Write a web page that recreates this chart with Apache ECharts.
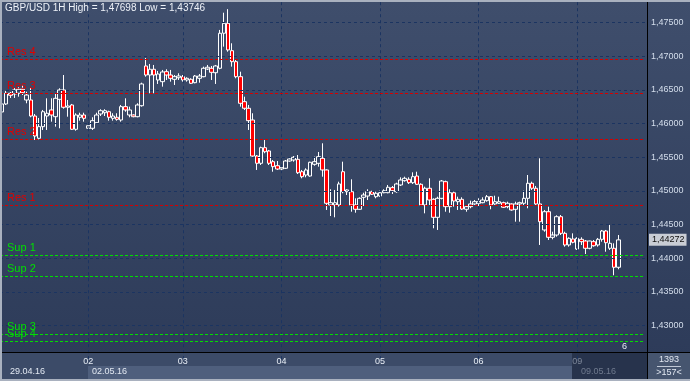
<!DOCTYPE html>
<html><head><meta charset="utf-8">
<script src="https://cdn.jsdelivr.net/npm/echarts@6/dist/echarts.min.js"></script>
<style>html,body{margin:0;padding:0;background:#2e3c5a;}#c{width:690px;height:381px;}</style>
</head><body><div id="c"></div>
<script>
// ---------- DATA ----------
const titleText = 'GBP/USD 1H High = 1,47698 Low = 1,43746';
const dayNames = ['29', '02', '03', '04', '05', '06', '09'];
const dayDates = ['29.04.16', '02.05.16', '03.05.16', '04.05.16', '05.05.16', '06.05.16', '09.05.16'];
const dayFirstHour = [3, 1, 0, 0, 0, 0, 1];
// rows: [open, close, low, high]
const day29 = [
  [1.46171,1.46290,1.46097,1.46423],[1.46290,1.46449,1.46275,1.46483],[1.46449,1.46419,1.46379,1.46468],
  [1.46438,1.46498,1.46379,1.46527],[1.46449,1.46508,1.46398,1.46538],[1.46508,1.46457,1.46423,1.46572],
  [1.46349,1.46423,1.46300,1.46472],[1.46349,1.46111,1.46092,1.46527],[1.46111,1.45814,1.45755,1.46141],
  [1.45780,1.45953,1.45765,1.46082],[1.45953,1.46175,1.45904,1.46201],[1.46111,1.46152,1.45904,1.46374],
  [1.46201,1.46126,1.46027,1.46374],[1.46101,1.46374,1.45953,1.46449],[1.46359,1.46498,1.45929,1.46523],
  [1.46498,1.46241,1.46220,1.46720],[1.46241,1.46260,1.46101,1.46349],[1.46275,1.45914,1.45904,1.46290],
  [1.45914,1.46126,1.45893,1.46152],[1.46092,1.46126,1.46042,1.46160],[1.46126,1.46077,1.46027,1.46160]
];
const day02 = [
  [1.45929,1.45967,1.45893,1.45978],[1.45929,1.46042,1.45904,1.46092],[1.46012,1.46126,1.46003,1.46160],
  [1.46141,1.46190,1.46111,1.46211],[1.46160,1.46190,1.46111,1.46211],[1.46175,1.46092,1.46042,1.46190],
  [1.46077,1.46111,1.46042,1.46152],[1.46092,1.46062,1.46042,1.46152],[1.46052,1.46250,1.46027,1.46275],
  [1.46250,1.46201,1.46175,1.46374],[1.46126,1.46201,1.46092,1.46250],[1.46126,1.46101,1.46092,1.46137],
  [1.46101,1.46275,1.46092,1.46300],[1.46264,1.46587,1.46250,1.46606],[1.46854,1.46720,1.46695,1.46973],
  [1.46720,1.46805,1.46449,1.46884],[1.46805,1.46720,1.46449,1.46869],[1.46646,1.46735,1.46587,1.46780],
  [1.46621,1.46765,1.46547,1.46795],[1.46769,1.46720,1.46646,1.46805],[1.46720,1.46671,1.46621,1.46795],
  [1.46656,1.46695,1.46572,1.46720],[1.46680,1.46705,1.46646,1.46746]
];
const day03 = [
  [1.46695,1.46646,1.46621,1.46720],[1.46646,1.46671,1.46621,1.46686],[1.46656,1.46597,1.46587,1.46671],
  [1.46606,1.46705,1.46597,1.46720],[1.46671,1.46705,1.46606,1.46735],[1.46695,1.46820,1.46686,1.46844],
  [1.46809,1.46835,1.46795,1.46869],[1.46820,1.46760,1.46646,1.46854],[1.46754,1.46854,1.46587,1.46869],
  [1.46820,1.47340,1.46805,1.47389],[1.47340,1.47488,1.47141,1.47645],[1.47488,1.47092,1.47066,1.47698],
  [1.47081,1.46918,1.46844,1.47191],[1.46918,1.46695,1.46671,1.46943],[1.46695,1.46300,1.46250,1.46769],
  [1.46324,1.46226,1.46201,1.46398],[1.46226,1.46042,1.45904,1.46275],[1.46052,1.45517,1.45507,1.46152],
  [1.45517,1.45409,1.45310,1.45532],[1.45409,1.45641,1.45384,1.45656],[1.45641,1.45581,1.45558,1.45755],
  [1.45592,1.45409,1.45384,1.45607],[1.45433,1.45359,1.45284,1.45458],[1.45373,1.45324,1.45310,1.45443]
];
const day04 = [
  [1.45324,1.45344,1.45299,1.45359],[1.45335,1.45443,1.45324,1.45458],[1.45443,1.45473,1.45433,1.45483],
  [1.45458,1.45498,1.45433,1.45517],[1.45468,1.45269,1.45250,1.45532],[1.45284,1.45210,1.45186,1.45310],
  [1.45235,1.45310,1.45201,1.45335],[1.45220,1.45424,1.45210,1.45433],[1.45394,1.45433,1.45373,1.45507],
  [1.45409,1.45507,1.45359,1.45577],[1.45483,1.45310,1.45210,1.45706],[1.45310,1.44815,1.44716,1.45320],
  [1.44790,1.44824,1.44626,1.45023],[1.44790,1.44824,1.44607,1.45013],[1.44790,1.45102,1.44765,1.45136],
  [1.45284,1.44987,1.44964,1.45433],[1.44987,1.45013,1.44938,1.45023],[1.44987,1.44790,1.44690,1.45171],
  [1.44790,1.44726,1.44675,1.44889],[1.44726,1.44889,1.44716,1.44904],[1.44904,1.44938,1.44775,1.44972],
  [1.44923,1.44987,1.44864,1.45023],[1.44987,1.44949,1.44938,1.45002],[1.44913,1.44964,1.44889,1.44987]
];
const day05 = [
  [1.44923,1.44972,1.44913,1.45002],[1.44972,1.45002,1.44964,1.45023],[1.44972,1.45053,1.44964,1.45087],
  [1.45047,1.45002,1.44953,1.45072],[1.44987,1.45102,1.44972,1.45121],[1.45087,1.45161,1.45072,1.45201],
  [1.45151,1.45186,1.45136,1.45210],[1.45171,1.45121,1.45102,1.45201],[1.45121,1.45210,1.45102,1.45275],
  [1.45220,1.45097,1.45087,1.45284],[1.45097,1.44790,1.44775,1.45112],[1.44790,1.45038,1.44666,1.45062],
  [1.45038,1.44864,1.44790,1.45186],[1.44874,1.44607,1.44444,1.44889],[1.44607,1.44889,1.44419,1.44913],
  [1.44889,1.45146,1.44874,1.45161],[1.45136,1.44765,1.44690,1.45151],[1.44765,1.44972,1.44675,1.45023],
  [1.44972,1.44849,1.44765,1.44987],[1.44839,1.44874,1.44716,1.44913],[1.44874,1.44730,1.44716,1.44904],
  [1.44726,1.44765,1.44690,1.44785],[1.44765,1.44805,1.44741,1.44854],[1.44805,1.44839,1.44790,1.44864]
];
const day06 = [
  [1.44815,1.44839,1.44775,1.44889],[1.44824,1.44864,1.44815,1.44904],[1.44854,1.44913,1.44839,1.44938],
  [1.44913,1.44790,1.44726,1.44923],[1.44805,1.44839,1.44790,1.44928],[1.44815,1.44839,1.44805,1.44913],
  [1.44824,1.44756,1.44745,1.44839],[1.44765,1.44815,1.44741,1.44839],[1.44805,1.44716,1.44705,1.44815],
  [1.44726,1.44805,1.44542,1.44839],[1.44805,1.44824,1.44542,1.44839],[1.44815,1.44889,1.44790,1.45002],
  [1.44889,1.45112,1.44741,1.45235],[1.45112,1.45038,1.45013,1.45136],[1.45038,1.44805,1.44790,1.45072],
  [1.44805,1.44542,1.44196,1.45483],[1.44419,1.44690,1.44393,1.44716],[1.44690,1.44310,1.44270,1.44765],
  [1.44310,1.44344,1.44280,1.44393],[1.44344,1.44616,1.44319,1.44637],[1.44616,1.44369,1.44344,1.44641],
  [1.44369,1.44196,1.44171,1.44393],[1.44196,1.44295,1.44171,1.44310],[1.44285,1.44236,1.44221,1.44369]
];
const day09 = [
  [1.44136,1.44295,1.44122,1.44310],[1.44280,1.44245,1.44196,1.44310],[1.44255,1.44147,1.44062,1.44270],
  [1.44147,1.44255,1.44132,1.44260],[1.44245,1.44185,1.44171,1.44270],[1.44196,1.44280,1.44171,1.44300],
  [1.44280,1.44404,1.44245,1.44419],[1.44404,1.44230,1.44096,1.44419],[1.44147,1.44221,1.44122,1.44493],
  [1.44147,1.43865,1.43746,1.44221],[1.43865,1.44272,1.43835,1.44344]
];
const emptySlots = 6;
const priceTicks = [1.430, 1.435, 1.440, 1.445, 1.450, 1.455, 1.460, 1.465, 1.470, 1.475];
const resNames = ['Res 4', 'Res 3', 'Res 2', 'Res 1'];
const resValues = [1.46953, 1.46449, 1.45765, 1.44785];
const supNames = ['Sup 1', 'Sup 2', 'Sup 3', 'Sup 4'];
const supValues = [1.44040, 1.43728, 1.42870, 1.42766];
const lastPrice = 1.44272;
const barsTotal = '1393';
const barsShown = '>157<';
const sideNote = '6';

// ---------- BUILD ----------
const days = [day29, day02, day03, day04, day05, day06, day09];
const rows = [];
const categories = [];
const dayStartIdx = [];
days.forEach((d, i) => {
  dayStartIdx.push(rows.length);
  d.forEach((r, h) => {
    rows.push(r);
    categories.push(dayDates[i] + ' ' + String(dayFirstHour[i] + h).padStart(2, '0') + ':00');
  });
});
for (let e = 0; e < emptySlots; e++) categories.push('pad' + e);
const labelMap = {};
dayStartIdx.forEach((idx, i) => { if (i > 0) labelMap[idx] = dayNames[i]; });
const fmt = v => v.toFixed(5).replace('.', ',');
const FONT = 'Liberation Sans, Arial, sans-serif';

const gridLines = priceTicks.map(v => ({ yAxis: v }))
  .concat(dayStartIdx.slice(1).map(idx => ({ xAxis: categories[idx] })));

const levelLines = [];
resNames.forEach((n, i) => levelLines.push({
  yAxis: resValues[i],
  lineStyle: { color: '#d40000', type: [3, 2], width: 1 },
  label: { show: true, formatter: n, color: '#e00000' }
}));
supNames.forEach((n, i) => levelLines.push({
  yAxis: supValues[i],
  lineStyle: { color: '#00e000', type: [3, 2], width: 1 },
  label: { show: true, formatter: n, color: '#00e000' }
}));
levelLines.push({
  yAxis: lastPrice,
  lineStyle: { color: 'rgba(0,0,0,0)', width: 0 },
  label: { show: true, position: 'end', formatter: fmt(lastPrice), color: '#101010', fontSize: 9,
    backgroundColor: '#c9cdd5', padding: [2, 2, 1, 3], distance: 4, opacity: 1 }
});

const chart = echarts.init(document.getElementById('c'), null, { renderer: 'canvas' });
chart.setOption({
  animation: false,
  backgroundColor: 'transparent',
  grid: { left: 0, right: 45, top: -11.2, bottom: 21.8, containLabel: false, outerBoundsMode: 'none' },
  xAxis: {
    type: 'category', data: categories, boundaryGap: true, offset: -7, z: 10,
    axisLine: { show: false }, axisTick: { show: false }, splitLine: { show: false },
    axisLabel: {
      interval: (i) => labelMap[i] !== undefined,
      formatter: (v, i) => labelMap[i] === '09' ? '{d|09}' : (labelMap[i] || ''),
      color: '#e8eef6', fontSize: 9, fontFamily: FONT, margin: 5,
      rich: { d: { color: '#7d8799', fontSize: 9, fontFamily: FONT } }
    }
  },
  yAxis: {
    type: 'value', position: 'right', min: 1.425, max: 1.48, interval: 0.005,
    axisLine: { show: false }, axisTick: { show: false }, splitLine: { show: false },
    axisLabel: {
      margin: 6, color: '#d4deec', fontSize: 9, fontFamily: FONT,
      showMinLabel: false, showMaxLabel: false,
      formatter: v => (v < 1.4299 || v > 1.4751) ? '' : fmt(v)
    }
  },
  graphic: { elements: [
    { type: 'rect', z: -10, silent: true, shape: { x: 0, y: 0, width: 690, height: 381 },
      style: { fill: new echarts.graphic.LinearGradient(0, 0, 0, 1, [{ offset: 0, color: '#3f4e6c' }, { offset: 1, color: '#2c3a58' }]) } },
    { type: 'rect', z: 5, silent: true, shape: { x: 0, y: 353, width: 690, height: 28 }, style: { fill: '#3c4b68' } },
    { type: 'rect', z: 5, silent: true, shape: { x: 88, y: 366, width: 484, height: 13 }, style: { fill: '#4f5f7d' } },
    { type: 'rect', z: 5, silent: true, shape: { x: 572, y: 353, width: 75, height: 26 }, style: { fill: '#27334c' } },
    { type: 'text', z: 6, silent: true, style: { x: 10, y: 367, text: dayDates[0], fill: '#e2e8f2', font: '9px ' + FONT } },
    { type: 'text', z: 6, silent: true, style: { x: 92, y: 367, text: dayDates[1], fill: '#e2e8f2', font: '9px ' + FONT } },
    { type: 'text', z: 6, silent: true, style: { x: 581, y: 367, text: dayDates[6], fill: '#6f7a8e', font: '9px ' + FONT } },
    { type: 'rect', z: 5, silent: true, shape: { x: 648, y: 353, width: 42, height: 28 }, style: { fill: '#46556f' } },
    { type: 'text', z: 6, silent: true, style: { x: 669, y: 355, text: barsTotal, fill: '#e2e8f2', font: '9px ' + FONT, align: 'center' } },
    { type: 'line', z: 6, silent: true, shape: { x1: 657, y1: 366.5, x2: 681, y2: 366.5 }, style: { stroke: '#c0c8d6', lineWidth: 1 } },
    { type: 'text', z: 6, silent: true, style: { x: 669, y: 368, text: barsShown, fill: '#e2e8f2', font: '9px ' + FONT, align: 'center' } },
    { type: 'line', z: 7, silent: true, shape: { x1: 647.5, y1: 0, x2: 647.5, y2: 381 }, style: { stroke: '#000000', lineWidth: 1 } },
    { type: 'line', z: 7, silent: true, shape: { x1: 0, y1: 352.5, x2: 690, y2: 352.5 }, style: { stroke: '#000000', lineWidth: 1 } },
    { type: 'rect', z: 7, silent: true, shape: { x: 0, y: 0, width: 690, height: 2 }, style: { fill: '#a9b1bf' } },
    { type: 'rect', z: 7, silent: true, shape: { x: 0, y: 0, width: 2, height: 381 }, style: { fill: '#a9b1bf' } },
    { type: 'rect', z: 7, silent: true, shape: { x: 0, y: 379, width: 690, height: 2 }, style: { fill: '#a9b1bf' } },
    { type: 'text', z: 7, silent: true, style: { x: 622, y: 342, text: sideNote, fill: '#e8eef6', font: '9px ' + FONT } },
    { type: 'text', z: 7, silent: true, style: { x: 5, y: 3, text: titleText, fill: '#eef2f8', font: '10px ' + FONT } }
  ] },
  series: [
    {
      type: 'line', data: [], z: 1, silent: true, symbol: 'none',
      markLine: { silent: true, symbol: ['none', 'none'], animation: false, precision: 5, label: { show: false },
        lineStyle: { color: '#1b3461', type: [3, 3], width: 1 }, data: gridLines }
    },
    {
      type: 'candlestick', data: rows, barWidth: 4, z: 3,
      itemStyle: { color: 'rgba(0,0,0,0)', color0: '#ff0000', borderColor: '#ffffff', borderColor0: '#ffffff', borderWidth: 1 },
      markLine: { silent: true, symbol: ['none', 'none'], animation: false, precision: 5,
        label: { position: 'insideStartTop', distance: [7, 2], fontSize: 11, fontFamily: FONT },
        data: levelLines }
    }
  ]
});
</script></body></html>
